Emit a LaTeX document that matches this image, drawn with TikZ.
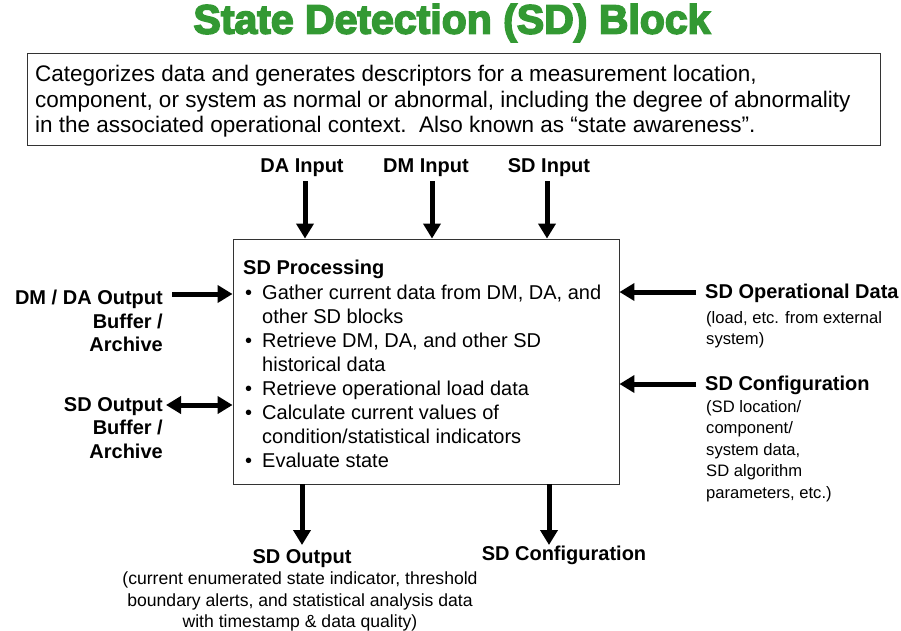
\documentclass[tikz,border=0pt]{standalone}
\usepackage{fontspec}
\setmainfont{Liberation Sans}
\newfontfamily\titlefont[FakeBold=4]{Liberation Sans Bold}
\usetikzlibrary{arrows.meta}
\definecolor{titlegreen}{RGB}{51,153,51}
\tikzset{
  arr/.style={line width=5pt,-{Triangle[length=15pt,width=17pt]}},
  darr/.style={line width=5pt,{Triangle[length=15pt,width=17pt]}-{Triangle[length=15pt,width=17pt]}},
  lab/.style={font=\fontsize{20}{23.5}\selectfont\bfseries,inner sep=0pt},
  sub/.style={font=\fontsize{16.6}{21.5}\selectfont,inner sep=0pt},
  bsub/.style={font=\fontsize{17.6}{21.5}\selectfont,inner sep=0pt},
  boxline/.style={draw=black!80,line width=0.9pt}
}
\begin{document}
\begin{tikzpicture}[x=1pt,y=-1pt]
\useasboundingbox (0,0) rectangle (901,630);
% title
\node[inner sep=0pt,text=titlegreen] (title) at (452,23)
  {\resizebox{517pt}{!}{\titlefont\fontsize{34}{34}\selectfont State Detection (SD) Block}};
% description box
\draw[boxline] (27,53) rectangle (880,145);
\node[anchor=north west,inner sep=0pt,align=left,font=\fontsize{22.5}{25.5}\selectfont] (desc) at (35,65)
  {Categorizes data and generates descriptors for a measurement location,\\
   component, or system as normal or abnormal, including the degree of abnormality\\
   in the associated operational context.\ \ Also known as \textquotedblleft state awareness\textquotedblright.};
% main box
\node[boxline,minimum width=386pt,minimum height=245pt,inner sep=0pt] (box) at (426,361.5) {};
\node[anchor=north west,inner sep=0pt,align=left,font=\fontsize{20}{23.9}\selectfont] (proc) at (243,260)
  {\textbf{SD Processing}};
\node[anchor=north west,inner sep=0pt,align=left,font=\fontsize{20}{23.9}\selectfont] (bul) at (245,283)
  {\begin{tabular}{@{}l@{\hspace{10pt}}l@{}}
   \textbullet & Gather current data from DM, DA, and\\
               & other SD blocks\\
   \textbullet & Retrieve DM, DA, and other SD\\
               & historical data\\
   \textbullet & Retrieve operational load data\\
   \textbullet & Calculate current values of\\
               & condition/statistical indicators\\
   \textbullet & Evaluate state
   \end{tabular}};
% top inputs
\node[lab] (dain) at (302,168) {DA Input};
\node[lab] (dmin) at (426,168) {DM Input};
\node[lab] (sdin) at (549,168) {SD Input};
\coordinate (dain-s) at (305,181);
\coordinate (dmin-s) at (432,181);
\coordinate (sdin-s) at (547,181);
\draw[arr] (dain-s) -- (dain-s |- box.north);
\draw[arr] (dmin-s) -- (dmin-s |- box.north);
\draw[arr] (sdin-s) -- (sdin-s |- box.north);
% left
\node[lab,anchor=north east,align=right] (dmda) at (163,290) {DM / DA Output\\Buffer /\\Archive};
\coordinate (dmda-e) at (172,294);
\draw[arr] (dmda-e) -- (dmda-e -| box.west);
\node[lab,anchor=north east,align=right] (sdob) at (163,397) {SD Output\\Buffer /\\Archive};
\coordinate (sdob-e) at (166,405);
\draw[darr] (sdob-e) -- (sdob-e -| box.west);
% right
\node[lab,anchor=west] (opd) at (705,293) {SD Operational Data};
\node[sub,anchor=north west,align=left] (opdsub) at (706,311) {(load, etc. from external\\system)};
\coordinate (opd-w) at (696,292);
\draw[arr] (opd-w) -- (opd-w -| box.east);
\node[lab,anchor=west] (cfg) at (705,385) {SD Configuration};
\node[sub,anchor=north west,align=left] (cfgsub) at (706,400) {(SD location/\\component/\\system data,\\SD algorithm\\parameters, etc.)};
\coordinate (cfg-w) at (696,384);
\draw[arr] (cfg-w) -- (cfg-w -| box.east);
% bottom
\coordinate (out-n) at (302,484);
\coordinate (out-s) at (302,545);
\draw[arr] (out-n) -- (out-s);
\node[lab] (sdout) at (302,559) {SD Output};
\node[bsub,anchor=north,align=center] (sdoutsub) at (300,572) {(current enumerated state indicator, threshold\\boundary alerts, and statistical analysis data\\with timestamp \& data quality)};
\coordinate (cfgo-n) at (549,484);
\coordinate (cfgo-s) at (549,545);
\draw[arr] (cfgo-n) -- (cfgo-s);
\node[lab] (cfgout) at (564,555) {SD Configuration};
\end{tikzpicture}
\end{document}
